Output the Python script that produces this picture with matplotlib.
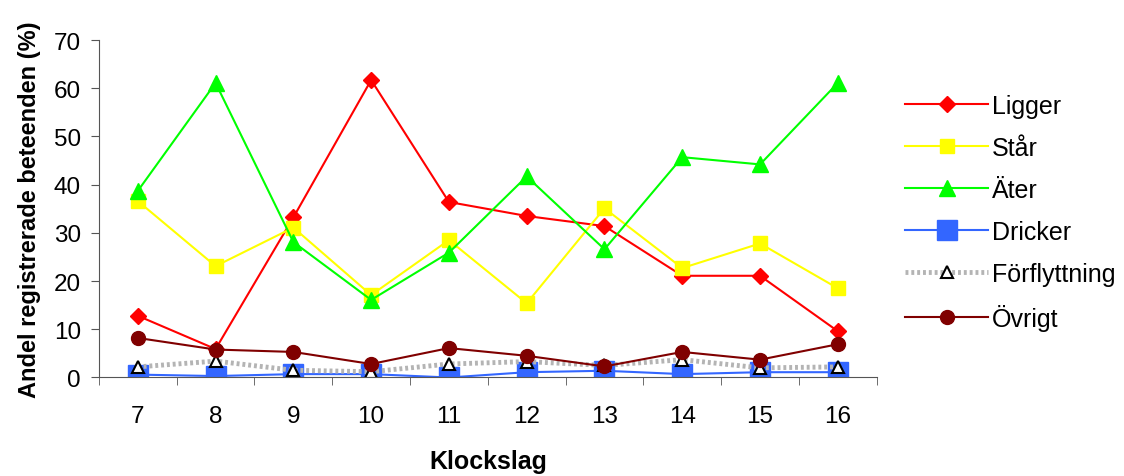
import matplotlib.pyplot as plt
import numpy as np

plt.rcParams['font.family'] = ['Liberation Sans', 'DejaVu Sans']

hours = [7, 8, 9, 10, 11, 12, 13, 14, 15, 16]
ligger = [12.8, 5.9, 33.2, 61.7, 36.4, 33.5, 31.4, 21.1, 21.1, 9.6]
star = [36.6, 23.1, 31.1, 17.1, 28.5, 15.4, 35.1, 22.7, 27.8, 18.5]
ater = [38.7, 61.1, 28.1, 16.1, 25.9, 41.7, 26.6, 45.7, 44.2, 61.1]
dricker = [0.6, 0.3, 0.7, 0.7, 0.0, 1.1, 1.4, 0.7, 1.1, 1.1]
forflyttning = [2.2, 3.4, 1.5, 1.2, 2.8, 3.3, 2.5, 3.7, 2.0, 2.2]
ovrigt = [8.2, 5.8, 5.3, 2.8, 6.1, 4.5, 2.3, 5.3, 3.7, 6.9]

fig = plt.figure(figsize=(11.24, 4.77), dpi=100)
ax = fig.add_axes([0.088, 0.2065, 0.692, 0.7075])

ax.plot(hours, ligger, color='#ff0000', marker='D', markersize=8, linewidth=1.5, label='Ligger')
ax.plot(hours, star, color='#ffff00', marker='s', markersize=10, linewidth=1.5, label='Står')
ax.plot(hours, ater, color='#00ff00', marker='^', markersize=12, linewidth=1.5, label='Äter')
ax.plot(hours, dricker, color='#3366ff', marker='s', markersize=14, linewidth=1.5, label='Dricker')
ax.plot(hours, forflyttning, color='#b4b4b4', linestyle=(0, (0.6, 0.6)), linewidth=3.5,
        marker='^', markersize=9, markerfacecolor='white', markeredgecolor='black',
        markeredgewidth=1.5, label='Förflyttning')
ax.plot(hours, ovrigt, color='#800000', marker='o', markersize=10, linewidth=1.5, label='Övrigt')

ax.set_xlim(6.5, 16.5)
ax.set_ylim(0, 70)
ax.set_xticks(hours)
ax.set_xticks(np.arange(6.5, 17, 1), minor=True)
ax.tick_params(axis='x', which='major', length=0, labelsize=17.5, pad=20)
ax.tick_params(axis='x', which='minor', length=6, direction='out', color='#555555')
ax.set_yticks(range(0, 80, 10))
ax.tick_params(axis='y', length=6, direction='out', labelsize=17.5, pad=7, color='#555555')

for s in ['top', 'right']:
    ax.spines[s].set_visible(False)
ax.spines['left'].set_color('#555555')
ax.spines['bottom'].set_color('#555555')

ax.set_xlabel('Klockslag', fontsize=18, fontweight='bold', labelpad=16)
ax.set_ylabel('Andel registrerade beteenden (%)', fontsize=17, fontweight='bold', labelpad=9)

fig.legend(loc='upper left', bbox_to_anchor=(0.796, 0.822), frameon=False, fontsize=18,
           handlelength=3.35, labelspacing=0.72, handletextpad=0.15, borderaxespad=0)

fig.savefig('out.png', dpi=100)
